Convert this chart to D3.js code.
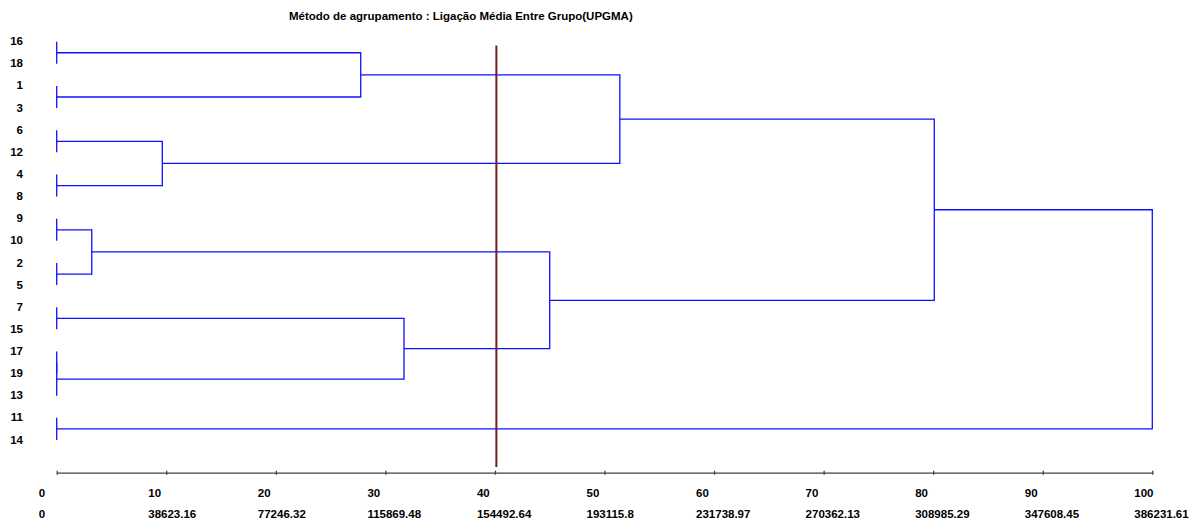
<!DOCTYPE html>
<html>
<head>
<meta charset="utf-8">
<script src="https://cdn.jsdelivr.net/npm/d3@7"></script>
<style>
  html, body { margin: 0; padding: 0; background: white; }
  text { font-family: "Liberation Sans", Arial, sans-serif; font-weight: bold; fill: #000; }
</style>
</head>
<body>
<div id="Canvas"></div>
<script>
// leaf labels, top to bottom
const leafLabels = ["16","18","1","3","6","12","4","8","9","10","2","5","7","15","17","19","13","11","14"]
// merges: [left id, right id, height %]  (ids >= 19 point to earlier merges)
const merges = [
    [0, 1, 0],      // 19  16,18
    [2, 3, 0],      // 20  1,3
    [4, 5, 0],      // 21  6,12
    [6, 7, 0],      // 22  4,8
    [8, 9, 0],      // 23  9,10
    [10, 11, 0],    // 24  2,5
    [12, 13, 0],    // 25  7,15
    [14, 15, 0],    // 26  17,19
    [26, 16, 0],    // 27  +13
    [17, 18, 0],    // 28  11,14
    [23, 24, 3.2],  // 29
    [21, 22, 9.64], // 30
    [19, 20, 27.75],// 31
    [25, 27, 31.7], // 32
    [29, 32, 45.0], // 33
    [31, 30, 51.4], // 34
    [34, 33, 80.1], // 35
    [35, 28, 100]   // 36
]
const cutValue = 40.13
const pctTicks = [0,10,20,30,40,50,60,70,80,90,100]
const distTicks = ["0","38623.16","77246.32","115869.48","154492.64","193115.8","231738.97","270362.13","308985.29","347608.45","386231.61"]
const title = "Método de agrupamento : Ligação Média Entre Grupo(UPGMA)"

let svg = d3.select("#Canvas")
    .append("svg")
    .attr("width", 1195)
    .attr("height", 522)
    .style("background", "white")

let X = d3.scaleLinear().domain([0,100]).range([56.7,1152.3])
let Y = d3.scalePoint().domain(d3.range(leafLabels.length)).range([41.7,440])

// node positions: leaves then merges
let nodeY = leafLabels.map((d,i)=>Y(i))
let nodeH = leafLabels.map(()=>0)
merges.forEach(function(m){
    nodeY.push((nodeY[m[0]] + nodeY[m[1]]) / 2)
    nodeH.push(m[2])
})

svg.append("text")
    .attr("x", 289).attr("y", 16).attr("dy", "0.35em")
    .style("font-size", "11.5px")
    .text(title)

// leaf labels
svg.append("g").selectAll("text")
    .data(leafLabels).enter()
    .append("text")
    .attr("x", 23).attr("y", (d,i)=>Y(i)-0.5).attr("dy", "0.35em")
    .attr("text-anchor", "end")
    .style("font-size", "11.5px")
    .text(d=>d)

// dendrogram links
svg.append("g").selectAll("path")
    .data(merges).enter()
    .append("path")
    .attr("d", function(m){
        let a = m[0], b = m[1]
        return "M" + X(nodeH[a]) + "," + nodeY[a]
            + "H" + X(m[2]) + "V" + nodeY[b]
            + "H" + X(nodeH[b])
    })
    .attr("fill", "none")
    .attr("stroke", "#1010ff")
    .attr("stroke-width", 1.3)

// cut line
svg.append("line")
    .attr("x1", X(cutValue)).attr("x2", X(cutValue))
    .attr("y1", 45.5).attr("y2", 467)
    .attr("stroke", "#6e1e1e")
    .attr("stroke-width", 2)

// x axis
let axis = d3.axisBottom(X).tickValues(pctTicks).tickSize(0).tickFormat("")
let ax = svg.append("g")
    .attr("transform", "translate(0,472.7)")
    .call(axis)
ax.select(".domain").attr("stroke", "#404040").attr("stroke-width", 1.3)
ax.selectAll(".tick line").attr("y1", -2).attr("y2", 2).attr("stroke", "#404040").attr("stroke-width", 1.3)

svg.append("g").selectAll("text")
    .data(pctTicks).enter()
    .append("text")
    .attr("x", d=>X(d)-18).attr("y", 493).attr("dy", "0.35em")
    .style("font-size", "11.5px")
    .text(d=>d)

svg.append("g").selectAll("text")
    .data(distTicks).enter()
    .append("text")
    .attr("x", (d,i)=>X(pctTicks[i])-18).attr("y", 513.5).attr("dy", "0.35em")
    .style("font-size", "11.5px")
    .text(d=>d)
</script>
</body>
</html>
